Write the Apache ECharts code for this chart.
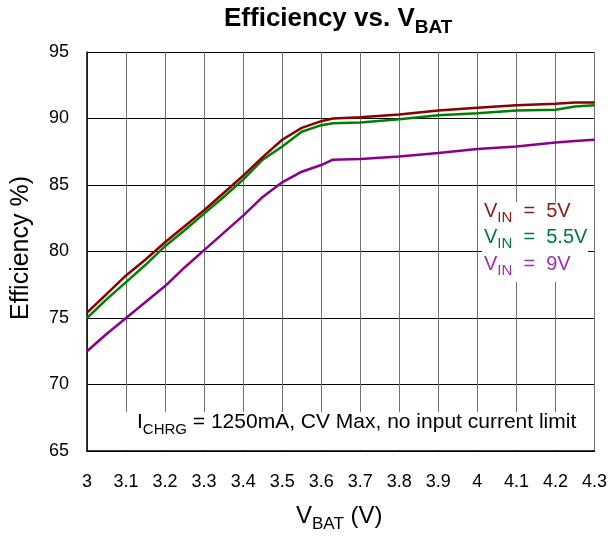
<!DOCTYPE html>
<html><head><meta charset="utf-8">
<script src="https://cdn.jsdelivr.net/npm/echarts@6/dist/echarts.min.js"></script>
<style>html,body{margin:0;padding:0;background:#fff}#c{width:610px;height:540px}</style>
</head><body><div id="c"></div>
<script>
const vbat = [3.0, 3.05, 3.1, 3.15, 3.2, 3.25, 3.3, 3.35, 3.4, 3.45, 3.5, 3.55, 3.6, 3.63, 3.7, 3.8, 3.9, 4.0, 4.1, 4.2, 4.25, 4.3];
const eff5V = [75.4, 76.8, 78.2, 79.4, 80.7, 81.9, 83.1, 84.4, 85.7, 87.1, 88.4, 89.3, 89.8, 90.0, 90.1, 90.3, 90.6, 90.8, 91.0, 91.1, 91.2, 91.2];
const eff55V = [75.0, 76.4, 77.7, 79.0, 80.4, 81.6, 82.85, 84.1, 85.4, 86.9, 87.9, 89.0, 89.5, 89.65, 89.7, 89.95, 90.25, 90.4, 90.6, 90.65, 90.9, 91.0];
const eff9V = [72.5, 73.8, 75.0, 76.2, 77.4, 78.8, 80.1, 81.4, 82.7, 84.1, 85.2, 86.0, 86.5, 86.9, 86.95, 87.15, 87.4, 87.7, 87.9, 88.2, 88.3, 88.4];
const seriesNames = ['5V', '5.5V', '9V'];
const seriesColors = ['#8b0000', '#008000', '#8b008b'];
const textColors = ['#8b1a1a', '#007a3d', '#9933aa'];

const FF = 'Liberation Sans, Arial, sans-serif';
const pairs = arr => vbat.map((x, i) => [x, arr[i]]);
const chart = echarts.init(document.getElementById('c'));
const legendLines = seriesNames.map((n, i) => ({
  type: 'text', left: 484, top: 201 + i * 26.5, z: 20,
  style: {
    text: '{m|V}{s|IN}{m|  =  ' + n + '}',
    rich: { m: { fontSize: 20, fontFamily: FF, fill: textColors[i], lineHeight: 24, verticalAlign: 'bottom' },
            s: { fontSize: 15, fontFamily: FF, fill: textColors[i], lineHeight: 24, verticalAlign: 'bottom', padding: [0,0,-4,0] } }
  }
}));
chart.setOption({
  animation: false,
  grid: { left: 87, right: 13, top: 52, bottom: 89 },
  xAxis: {
    type: 'value', min: 3, max: 4.3, interval: 0.1,
    axisLine: { show: true, lineStyle: { color: '#000', width: 1.5 } },
    axisTick: { show: false },
    axisLabel: { color: '#000', fontSize: 18, fontFamily: FF, margin: 22, formatter: v => String(+v.toFixed(1)) },
    splitLine: { show: true, lineStyle: { color: '#707070', width: 1 } }
  },
  yAxis: {
    type: 'value', min: 65, max: 95, interval: 5,
    axisLine: { show: true, lineStyle: { color: '#000', width: 1.5 } },
    axisTick: { show: false },
    axisLabel: { color: '#000', fontSize: 18, fontFamily: FF, margin: 18 },
    splitLine: { show: true, lineStyle: { color: '#000', width: 1 } }
  },
  series: [eff5V, eff55V, eff9V].map((d, i) => ({
    type: 'line', name: seriesNames[i], data: pairs(d), symbol: 'none',
    lineStyle: { color: seriesColors[i], width: 2.5 }, z: 5 - i
  })),
  graphic: [
    { type: 'text', left: 224, top: 6, z: 20,
      style: { text: '{m|Efficiency vs. V}{s|BAT}', rich: {
        m: { fontSize: 26, fontWeight: 'bold', fontFamily: FF, fill: '#000', lineHeight: 30, verticalAlign: 'bottom' },
        s: { fontSize: 19, fontWeight: 'bold', fontFamily: FF, fill: '#000', lineHeight: 30, verticalAlign: 'bottom', padding: [0,0,-5,0] } } } },
    { type: 'text', left: 296, top: 504, z: 20,
      style: { text: '{m|V}{s|BAT}{m| (V)}', rich: {
        m: { fontSize: 24, fontFamily: FF, fill: '#000', lineHeight: 30, verticalAlign: 'bottom' },
        s: { fontSize: 17, fontFamily: FF, fill: '#000', lineHeight: 30, verticalAlign: 'bottom', padding: [0,0,-5,0] } } } },
    { type: 'text', x: 21, y: 248, rotation: Math.PI / 2, z: 20,
      style: { text: 'Efficiency %)', font: '25px ' + FF, fill: '#000', align: 'center', verticalAlign: 'middle' } },
    { type: 'rect', shape: { x: 482, y: 202, width: 106, height: 80 }, style: { fill: '#fff' }, z: 10 },
    ...legendLines,
    { type: 'rect', shape: { x: 124, y: 412, width: 462, height: 38 }, style: { fill: '#fff' }, z: 10 },
    { type: 'text', left: 137, top: 412, z: 20,
      style: { text: '{m|I}{s|CHRG}{m| = 1250mA, CV Max, no input current limit}', rich: {
        m: { fontSize: 21, fontFamily: FF, fill: '#000', lineHeight: 26, verticalAlign: 'bottom' },
        s: { fontSize: 15, fontFamily: FF, fill: '#000', lineHeight: 26, verticalAlign: 'bottom', padding: [0,0,-4,0] } } } }
  ]
});
</script></body></html>
